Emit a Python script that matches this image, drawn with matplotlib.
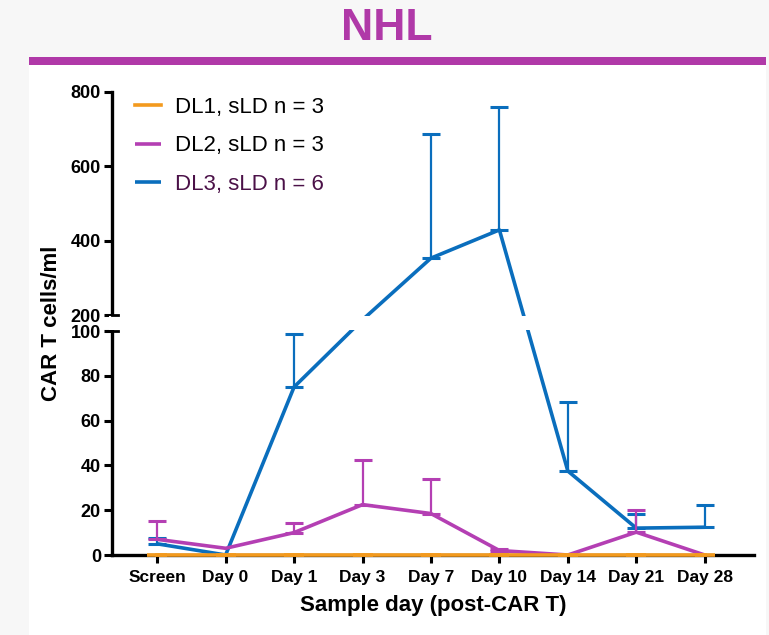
import numpy as np
import matplotlib
matplotlib.use("Agg")
import matplotlib.pyplot as plt
from matplotlib.patches import Rectangle

days = ['Screen', 'Day 0', 'Day 1', 'Day 3', 'Day 7', 'Day 10', 'Day 14', 'Day 21', 'Day 28']

# mean CAR T cells/ml and upper SD per dose level
dl1_mean = [0, 0, 0, 0, 0, 0, 0, 0, 0]
dl2_mean = [7, 3, 10, 22.5, 18.5, 2, 0, 10.2, 0]
dl2_sd = [8, 0, 4.5, 19.8, 15.3, 0.6, 0, 10, 0]
dl3_mean = [5, 0, 75, 170, 353, 429, 37.5, 12, 12.4]
dl3_sd = [2.5, 0, 23.5, 0, 334, 331, 30.7, 6.4, 9.8]

labels = ['DL1, sLD n = 3', 'DL2, sLD n = 3', 'DL3, sLD n = 6']
c_orange = '#f39a1e'
c_purple = '#b43fb3'
c_blue = '#0a6ebd'
c_title = '#b039a8'

plt.rcParams['font.family'] = ['Liberation Sans', 'DejaVu Sans']


# broken y axis: 0-100 stretched, 100-200 squeezed into a small gap, 200-800 compressed
def fwd(y):
    y = np.asarray(y, dtype=float)
    return np.where(y <= 100, y * 2.24,
                    np.where(y <= 200, 224 + (y - 100) * 0.16, 240 + (y - 200) * 0.3717))


def inv(s):
    s = np.asarray(s, dtype=float)
    return np.where(s <= 224, s / 2.24,
                    np.where(s <= 240, 100 + (s - 224) / 0.16, 200 + (s - 240) / 0.3717))


W, H = 769, 635
fig = plt.figure(figsize=(W / 100, H / 100), dpi=100, facecolor='#f7f7f7')

# white panel and purple banner under the title
fig.patches.append(Rectangle((29 / W, 0), 737 / W, 1 - 65 / H, transform=fig.transFigure,
                             facecolor='white', edgecolor='none', zorder=-2))
fig.patches.append(Rectangle((29 / W, 1 - 65 / H), 737 / W, 8 / H, transform=fig.transFigure,
                             facecolor=c_title, edgecolor='none', zorder=-1))
fig.text(387 / W, 1 - 29 / H, 'NHL', ha='center', va='center', fontsize=32, fontweight='bold',
         color=c_title)

ax = fig.add_axes([112 / W, 1 - 555 / H, 642 / W, 463 / H])
ax.set_facecolor('none')
ax.set_yscale('function', functions=(fwd, inv))
ax.set_ylim(0, 800)
x = np.arange(len(days))
ax.set_xlim(-0.66, 8.72)


def draw_group(mean, sd, color, label, z):
    mean = np.asarray(mean, dtype=float)
    sd = np.asarray(sd, dtype=float)
    ax.plot(x, mean, color=color, lw=2.6, label=label, zorder=z, clip_on=False,
            solid_capstyle='butt')
    has = sd > 0
    ax.errorbar(x[has], mean[has], yerr=[np.zeros(has.sum()), sd[has]], fmt='none',
                ecolor=color, elinewidth=1.6, capsize=6.8, capthick=2.2, zorder=z)


draw_group(dl3_mean, dl3_sd, c_blue, labels[2], 3)
draw_group(dl2_mean, dl2_sd, c_purple, labels[1], 4)
ax.plot(x, dl1_mean, color=c_orange, lw=2.6, marker='_', ms=14, mew=2.6,
        label=labels[0], zorder=5, clip_on=False)

# white band for the axis break
ax.axhspan(109, 191, xmin=-0.005, xmax=1.0, facecolor='white', edgecolor='none',
           zorder=6, clip_on=False)
tr = ax.get_yaxis_transform()
for yb in (100, 200):
    ax.plot([0, 0.009], [yb, yb], color='black', lw=2, transform=tr, clip_on=False, zorder=7)

ax.set_yticks([0, 20, 40, 60, 80, 100, 200, 400, 600, 800])
ax.set_xticks(x)
ax.set_xticklabels(days)
ax.tick_params(axis='both', direction='out', length=6, width=2.2, labelsize=13, pad=2)
ax.tick_params(axis='x', labelsize=12.5, pad=5)
for lab in ax.get_xticklabels() + ax.get_yticklabels():
    lab.set_fontweight('bold')

for s in ('top', 'right'):
    ax.spines[s].set_visible(False)
for s in ('left', 'bottom'):
    ax.spines[s].set_linewidth(2.4)

ax.set_xlabel('Sample day (post-CAR T)', fontsize=16, fontweight='bold', labelpad=7)
ax.set_ylabel('CAR T cells/ml', fontsize=16, fontweight='bold', labelpad=6)

handles, labs = ax.get_legend_handles_labels()
order = [labs.index(l) for l in labels]
leg = ax.legend([handles[i] for i in order], [labs[i] for i in order], loc='upper left',
                bbox_to_anchor=(0.004, 1.033), frameon=False, fontsize=16, handlelength=1.2,
                handletextpad=0.6, labelspacing=0.8)
for h in leg.legend_handles:
    h.set_marker('')
    h.set_linewidth(2.6)
leg.get_texts()[2].set_color('#4b1148')

fig.savefig('out.png', dpi=100, facecolor=fig.get_facecolor())
